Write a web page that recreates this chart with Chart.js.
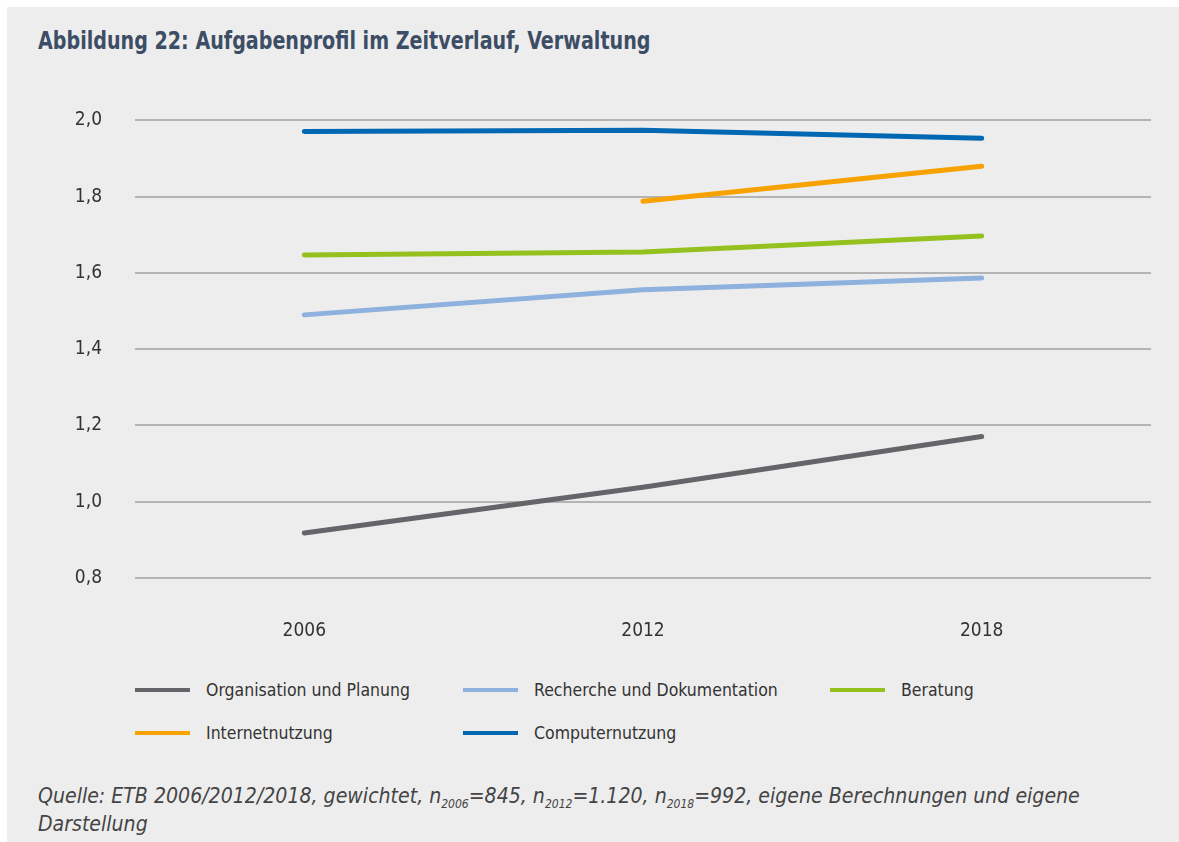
<!DOCTYPE html>
<html lang="de">
<head>
<meta charset="utf-8">
<script src="https://cdn.jsdelivr.net/npm/chart.js@4"></script>
<style>
  html, body { margin: 0; padding: 0; background: #fff; }
  body { width: 1179px; height: 842px; position: relative; overflow: hidden;
         font-family: "Liberation Sans Narrow", "DejaVu Sans Condensed", "Open Sans", sans-serif; }
  #panel { position: absolute; left: 7px; top: 7px; width: 1172px; height: 835px; background: #ededed; }
  #title { position: absolute; left: 38px; top: 26px; font-size: 25px; font-weight: bold; color: #3d4d65;
           white-space: nowrap; transform: scaleX(0.85); transform-origin: left center; }
  #wrap { position: absolute; left: 0; top: 76px; width: 1179px; height: 574px; }
  #legend { position: absolute; left: 0; top: 0; width: 1179px; }
  .item { position: absolute; display: flex; align-items: center; font-size: 17.5px; color: #333; white-space: nowrap; }
  .item span.swatch { display: inline-block; width: 55px; height: 4px; margin-right: 16px; }
  #source { position: absolute; left: 38px; top: 782px; font-size: 21.1px; font-style: italic; color: #444; line-height: 28px; white-space: nowrap; }
  #source sub { font-size: 12px; vertical-align: -5px; line-height: 0; }
</style>
</head>
<body>
<div id="panel"></div>
<div id="title">Abbildung 22: Aufgabenprofil im Zeitverlauf, Verwaltung</div>
<div id="wrap"><canvas id="chart" width="1179" height="574"></canvas></div>
<div id="legend"></div>
<div id="source">Quelle: ETB 2006/2012/2018, gewichtet, n<sub>2006</sub>=845, n<sub>2012</sub>=1.120, n<sub>2018</sub>=992, eigene Berechnungen und eigene<br>Darstellung</div>
<script>
const years = ['2006', '2012', '2018'];
const organisation = [0.918, 1.038, 1.171];
const recherche = [1.490, 1.556, 1.587];
const beratung = [1.647, 1.655, 1.697];
const internet = [null, 1.788, 1.880];
const computer = [1.971, 1.974, 1.953];
const yTicks = { min: 0.8, max: 2.0, step: 0.2 };

const series = [
  { label: 'Organisation und Planung', data: organisation, color: '#646569' },
  { label: 'Recherche und Dokumentation', data: recherche, color: '#8eb1de' },
  { label: 'Beratung', data: beratung, color: '#95c11f' },
  { label: 'Internetnutzung', data: internet, color: '#f7a200' },
  { label: 'Computernutzung', data: computer, color: '#0068b3' }
];

const fontFam = '"Liberation Sans Narrow", "DejaVu Sans Condensed", "Open Sans", sans-serif';

const chart = new Chart(document.getElementById('chart'), {
  type: 'line',
  data: {
    labels: years,
    datasets: series.map(s => ({
      label: s.label,
      data: s.data,
      borderColor: s.color,
      backgroundColor: s.color,
      borderWidth: 5,
      borderCapStyle: 'round',
      borderJoinStyle: 'round',
      pointRadius: 0,
      tension: 0,
      spanGaps: false
    }))
  },
  options: {
    responsive: false,
    animation: false,
    layout: { padding: { left: 0, right: 28, top: 15, bottom: 0 } },
    plugins: { legend: { display: false }, tooltip: { enabled: false } },
    scales: {
      x: {
        offset: true,
        grid: { display: false, drawTicks: false },
        border: { display: false },
        ticks: { padding: 42, color: '#333', font: { family: fontFam, size: 19 } },
        afterFit: s => { s.height = 72; }
      },
      y: {
        min: yTicks.min,
        max: yTicks.max,
        grid: { color: '#b4b4b4', lineWidth: 2, drawTicks: false },
        border: { display: false },
        ticks: {
          stepSize: yTicks.step,
          padding: 33,
          color: '#333',
          font: { family: fontFam, size: 19 },
          callback: v => v.toFixed(1).replace('.', ',')
        },
        afterFit: s => { s.width = 135; }
      }
    }
  }
});

// legend in three columns, two rows
const cols = [135, 463, 830];
const rows = [690, 733];
const legend = document.getElementById('legend');
chart.data.datasets.forEach((ds, i) => {
  const el = document.createElement('div');
  el.className = 'item';
  el.style.left = cols[i % 3] + 'px';
  el.style.top = (rows[Math.floor(i / 3)] - 10) + 'px';
  el.innerHTML = '<span class="swatch" style="background:' + ds.borderColor + '"></span>' + ds.label;
  legend.appendChild(el);
});
</script>
</body>
</html>
